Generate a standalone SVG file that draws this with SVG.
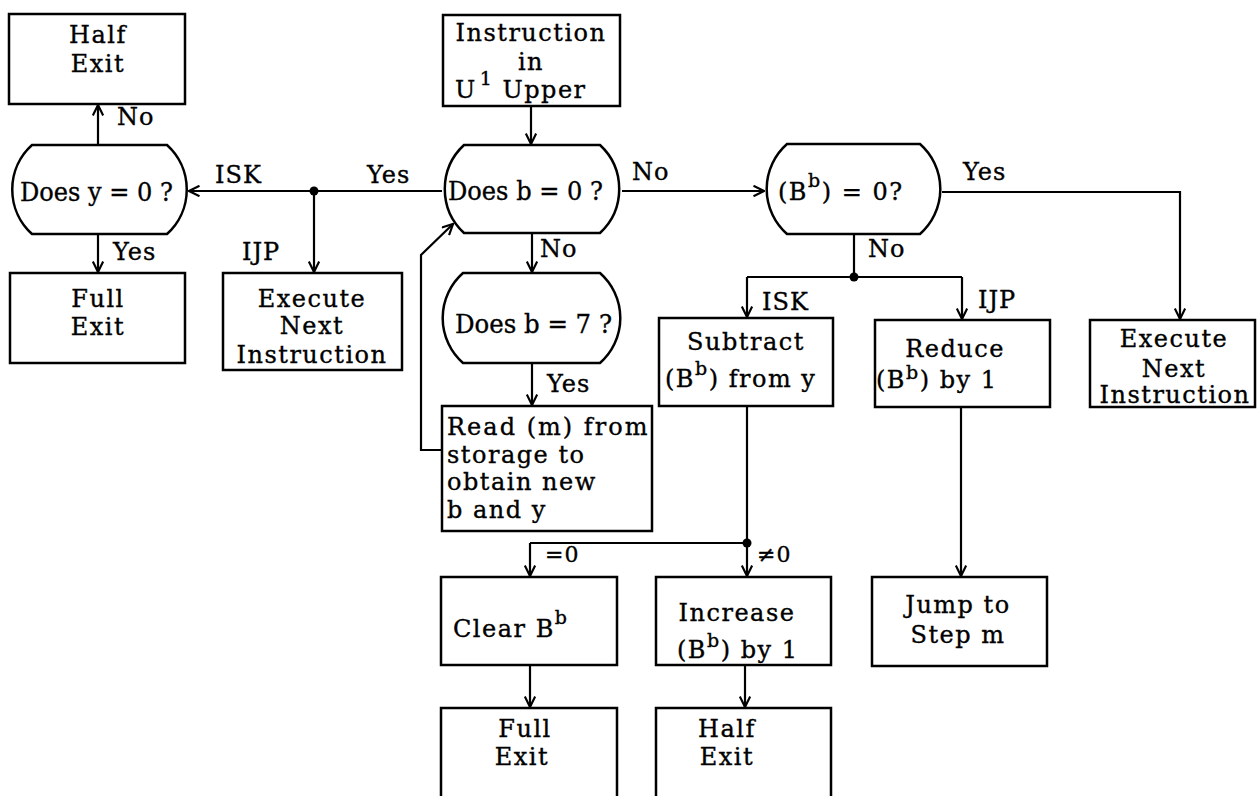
<svg xmlns="http://www.w3.org/2000/svg" width="1257" height="796" viewBox="0 0 1257 796">
<style>
.box{fill:#fff;stroke:#000;stroke-width:2.5}
.dec{fill:#fff;stroke:#000;stroke-width:2.5}
.t{font-family:"DejaVu Serif","Liberation Serif",serif;font-size:24px;letter-spacing:1.5px;fill:#000;stroke:#000;stroke-width:0.35}
.d{font-family:"DejaVu Serif","Liberation Serif",serif;font-size:26px;fill:#000;stroke:#000;stroke-width:0.35}
.c{text-anchor:middle}
.lbl{font-family:"DejaVu Serif","Liberation Serif",serif;font-size:24px;letter-spacing:1px;fill:#000;stroke:#000;stroke-width:0.35}
.small{font-size:22px}
.ln{fill:none;stroke:#000;stroke-width:2.2}
.arr{marker-end:url(#ah)}
.sup{font-size:19px}
</style>
<defs>
<marker id="ah" viewBox="0 0 12 12" refX="11" refY="6" markerWidth="12" markerHeight="12" markerUnits="userSpaceOnUse" orient="auto">
<path d="M0.5,0.8 L11,6 L0.5,11.2" fill="none" stroke="#000" stroke-width="2.2"/>
</marker>
</defs>

<g id="connectors">
<path class="ln arr" d="M531,106 V144"/>
<path class="ln arr" d="M442,191 H189"/>
<path class="ln arr" d="M314,191 V272"/>
<path class="ln arr" d="M98,145 V105"/>
<path class="ln arr" d="M98,234 V272"/>
<path class="ln arr" d="M622,191 H764"/>
<path class="ln arr" d="M532,233 V272"/>
<path class="ln arr" d="M532,363 V405"/>
<path class="ln arr" d="M442,450 H421 V255 L453,224"/>
<path class="ln arr" d="M942,192 H1180 V319"/>
<path class="ln" d="M854,234 V277 M747,277 H962"/>
<path class="ln arr" d="M747,277 V317"/>
<path class="ln arr" d="M962,277 V319"/>
<path class="ln arr" d="M961,407 V576"/>
<path class="ln" d="M747,406 V543 M530,543 H747"/>
<path class="ln arr" d="M530,543 V576"/>
<path class="ln arr" d="M747,543 V576"/>
<path class="ln arr" d="M530,665 V707"/>
<path class="ln arr" d="M745,665 V707"/>
<circle cx="314" cy="191" r="4.5"/>
<circle cx="854" cy="277" r="4.5"/>
<circle cx="747" cy="543" r="4.5"/>
</g>

<g id="half_exit_top">
<rect class="box" x="9" y="14" width="176" height="90"/>
<text class="t c" x="98" y="43">Half</text>
<text class="t c" x="98" y="72">Exit</text>
</g>

<g id="does_y0">
<path class="dec" d="M32,145 H167 A60,60 0 0 1 167,234 H32 A60,60 0 0 1 32,145 Z"/>
<text class="d" x="20" y="201" textLength="153" lengthAdjust="spacingAndGlyphs">Does y = 0 ?</text>
</g>

<g id="full_exit_left">
<rect class="box" x="10" y="273" width="175" height="90"/>
<text class="t c" x="98" y="307">Full</text>
<text class="t c" x="98" y="335">Exit</text>
</g>

<g id="exec_left">
<rect class="box" x="223" y="273" width="179" height="97"/>
<text class="t c" x="312" y="307">Execute</text>
<text class="t c" x="312" y="334">Next</text>
<text class="t c" x="312" y="363">Instruction</text>
</g>

<g id="instruction_u1">
<rect class="box" x="443" y="15" width="177" height="91"/>
<text class="t c" x="531" y="41">Instruction</text>
<text class="t c" x="531" y="70">in</text>
<text class="t" x="455" y="98">U<tspan class="sup" dx="3" dy="-13">1</tspan><tspan dy="13">  Upper</tspan></text>
</g>

<g id="does_b0">
<path class="dec" d="M464,145 H600 A60,60 0 0 1 600,233 H464 A60,60 0 0 1 464,145 Z"/>
<text class="d" x="448" y="200" textLength="155" lengthAdjust="spacingAndGlyphs">Does b = 0 ?</text>
</g>

<g id="does_b7">
<path class="dec" d="M463,273 H600 A60,60 0 0 1 600,363 H463 A60,60 0 0 1 463,273 Z"/>
<text class="d" x="455" y="333" textLength="157" lengthAdjust="spacingAndGlyphs">Does b = 7 ?</text>
</g>

<g id="read_m">
<rect class="box" x="442" y="406" width="210" height="125"/>
<text class="t" x="447" y="435" textLength="202">Read (m) from</text>
<text class="t" x="447" y="463">storage to</text>
<text class="t" x="447" y="490">obtain new</text>
<text class="t" x="447" y="518">b and y</text>
</g>

<g id="bb_zero">
<path class="dec" d="M787,144 H920 A60,60 0 0 1 920,234 H787 A60,60 0 0 1 787,144 Z"/>
<text class="t" x="778" y="200">(B<tspan class="sup" dy="-13">b</tspan><tspan dy="13">)  = 0?</tspan></text>
</g>

<g id="subtract">
<rect class="box" x="659" y="318" width="174" height="88"/>
<text class="t c" x="746" y="350">Subtract</text>
<text class="t" x="665" y="387">(B<tspan class="sup" dy="-12">b</tspan><tspan dy="12">) from y</tspan></text>
</g>

<g id="reduce">
<rect class="box" x="875" y="320" width="175" height="87"/>
<text class="t c" x="955" y="357">Reduce</text>
<text class="t" x="876" y="388">(B<tspan class="sup" dy="-9">b</tspan><tspan dy="9">)  by 1</tspan></text>
</g>

<g id="exec_right">
<rect class="box" x="1090" y="320" width="165" height="87"/>
<text class="t c" x="1174" y="347">Execute</text>
<text class="t c" x="1174" y="377">Next</text>
<text class="t c" x="1175" y="403">Instruction</text>
</g>

<g id="clear_bb">
<rect class="box" x="441" y="577" width="176" height="88"/>
<text class="t" x="453" y="637">Clear B<tspan class="sup" dy="-13">b</tspan></text>
</g>

<g id="increase">
<rect class="box" x="656" y="577" width="175" height="88"/>
<text class="t c" x="737" y="621">Increase</text>
<text class="t" x="677" y="658">(B<tspan class="sup" dy="-11">b</tspan><tspan dy="11">)  by 1</tspan></text>
</g>

<g id="jump">
<rect class="box" x="872" y="577" width="175" height="89"/>
<text class="t c" x="958" y="613">Jump to</text>
<text class="t c" x="958" y="643">Step m</text>
</g>

<g id="full_exit_bottom">
<rect class="box" x="441" y="708" width="176" height="120"/>
<text class="t c" x="525" y="737">Full</text>
<text class="t c" x="522" y="765">Exit</text>
</g>

<g id="half_exit_bottom">
<rect class="box" x="656" y="708" width="175" height="120"/>
<text class="t c" x="727" y="737">Half</text>
<text class="t c" x="727" y="765">Exit</text>
</g>

<g id="labels">
<text class="lbl" x="117" y="125">No</text>
<text class="lbl" x="215" y="183">ISK</text>
<text class="lbl" x="367" y="183">Yes</text>
<text class="lbl" x="113" y="260">Yes</text>
<text class="lbl" x="242" y="260">IJP</text>
<text class="lbl" x="632" y="180">No</text>
<text class="lbl" x="540" y="257">No</text>
<text class="lbl" x="547" y="392">Yes</text>
<text class="lbl" x="963" y="180">Yes</text>
<text class="lbl" x="868" y="257">No</text>
<text class="lbl" x="762" y="310">ISK</text>
<text class="lbl" x="978" y="308">IJP</text>
<text class="lbl small" x="545" y="562">=0</text>
<text class="lbl small" x="757" y="562">≠0</text>
</g>
</svg>
